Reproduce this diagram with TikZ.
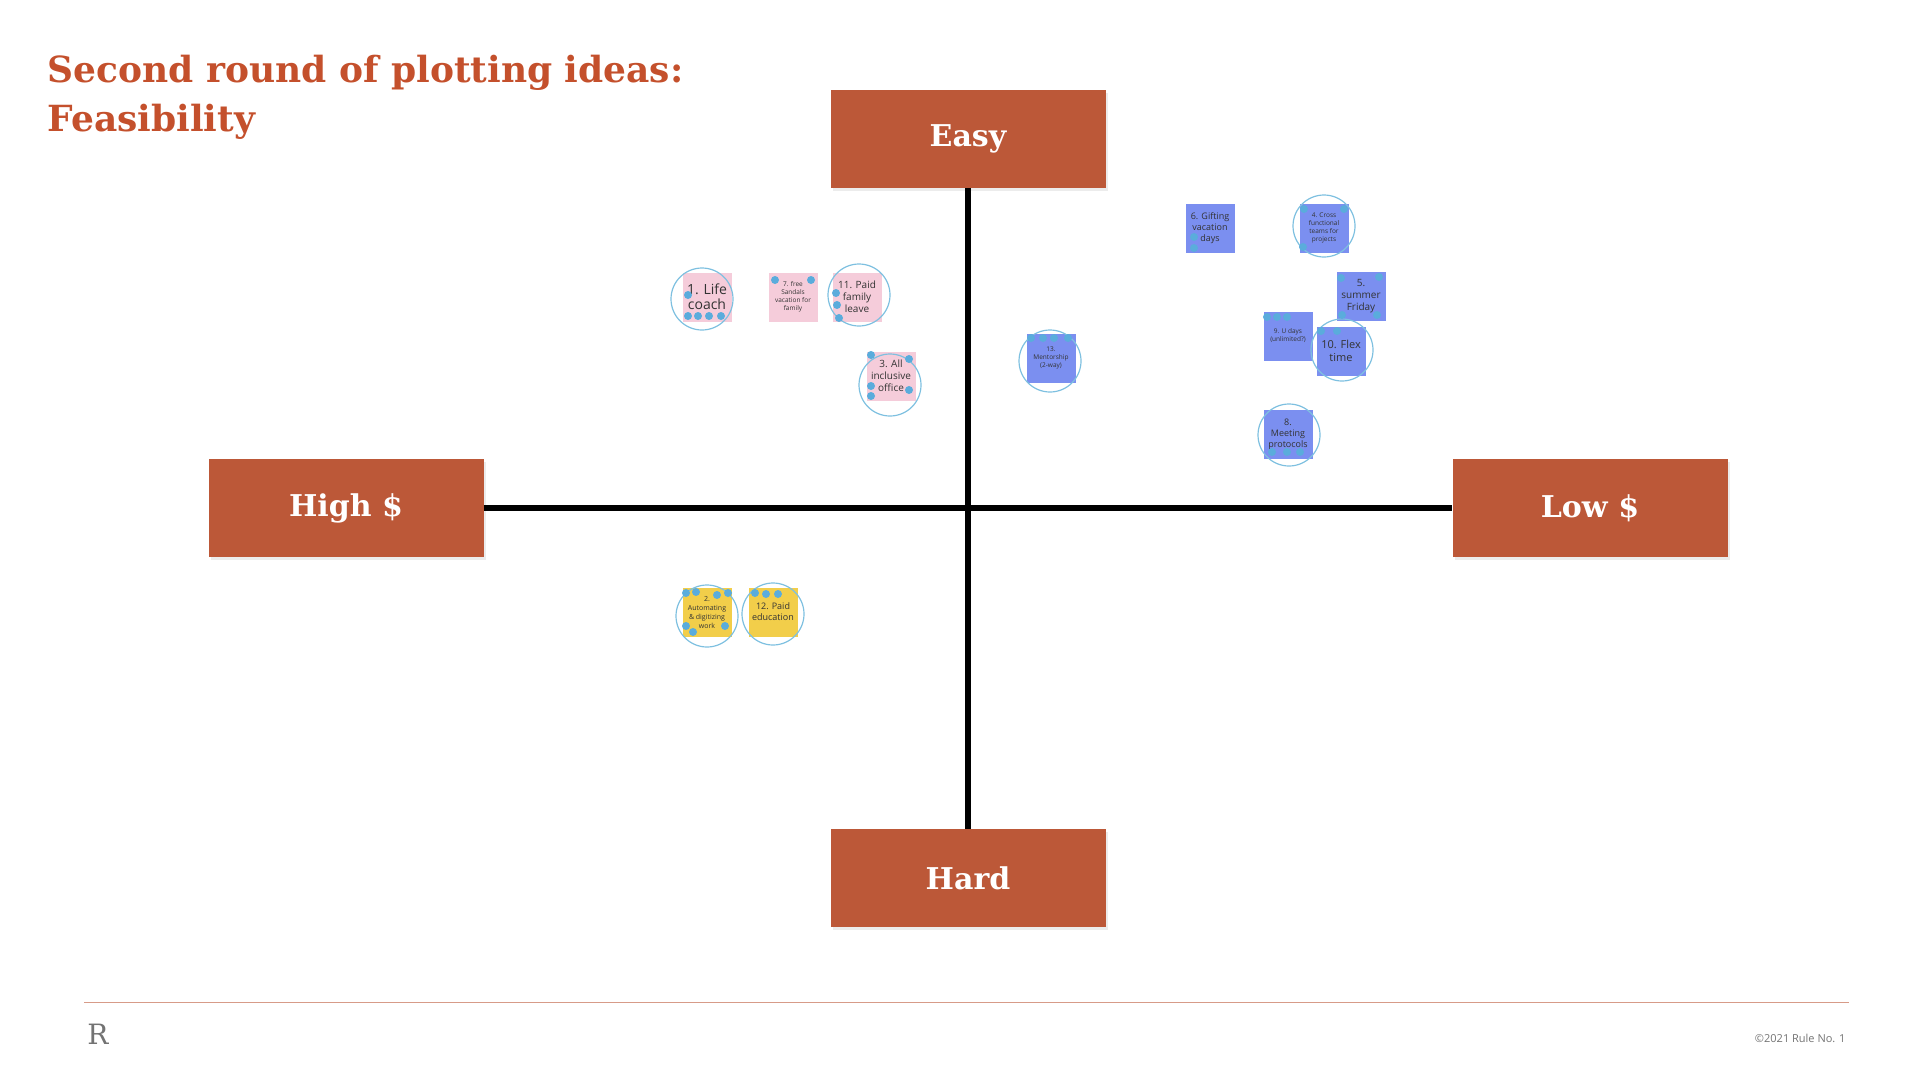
\documentclass[tikz,border=0pt]{standalone}
\usepackage{fontspec}
\setmainfont{Open Sans}
\newfontfamily\slab{DejaVu Serif}
\usetikzlibrary{shadows}
\definecolor{rust}{HTML}{BC5838}
\definecolor{titlec}{HTML}{C4502C}
\definecolor{pinkn}{HTML}{F5CCDA}
\definecolor{bluen}{HTML}{7B8FF0}
\definecolor{yellown}{HTML}{F2CE4A}
\definecolor{dotc}{HTML}{5AACDC}
\definecolor{ringc}{HTML}{7EC0E0}
\begin{document}
\begin{tikzpicture}[x=1pt,y=-1pt,
  axisbox/.style={fill=rust,minimum width=275pt,minimum height=98pt,text=white,font=\slab\bfseries\fontsize{30}{30}\selectfont,drop shadow={opacity=0.15}},
  note/.style={minimum size=49pt,inner sep=1pt,align=center,text=black!80},
  pk/.style={note,fill=pinkn},
  bl/.style={note,fill=bluen},
  yl/.style={note,fill=yellown},
  ring/.style={draw=ringc,line width=1.2pt},
  dt/.style={fill=dotc},
  ax/.style={line width=6pt,black}]
\useasboundingbox (0,0) rectangle (1914,1068);
\node[anchor=west,text=titlec,font=\slab\bfseries\fontsize{36}{36}\selectfont] (t1) at (44,73) {Second round of plotting ideas:};
\node[anchor=west,text=titlec,font=\slab\bfseries\fontsize{36}{36}\selectfont] (t2) at (44,122) {Feasibility};
\node[axisbox] (easy) at (968,139) {Easy};
\node[axisbox] (hard) at (968,878) {Hard};
\node[axisbox] (high) at (346,508) {High \$};
\node[axisbox] (low) at (1590,508) {Low \$};
\draw[ax] (easy.south) -- (hard.north);
\draw[ax] (high.east) -- (low.west);
% notes
\node[pk,font=\fontsize{14}{15}\selectfont] (n1) at (707,297) {1. Life\\coach};
\node[pk,font=\fontsize{6.5}{8}\selectfont] (n7) at (793,297) {7. free\\Sandals\\vacation for\\family};
\node[pk,font=\fontsize{10}{12}\selectfont] (n11) at (857,297) {11. Paid\\family\\leave};
\node[pk,font=\fontsize{10}{12}\selectfont] (n3) at (891,376) {3. All\\inclusive\\office};
\node[bl,font=\fontsize{6.5}{8}\selectfont] (n13) at (1051,358) {13.\\Mentorship\\(2-way)};
\node[bl,font=\fontsize{9}{11}\selectfont] (n6) at (1210,228) {6. Gifting\\vacation\\days};
\node[bl,font=\fontsize{6.5}{8}\selectfont] (n4) at (1324,228) {4. Cross\\functional\\teams for\\projects};
\node[bl,font=\fontsize{10}{12}\selectfont] (n5) at (1361,296) {5.\\summer\\Friday};
\node[bl,font=\fontsize{6.5}{8}\selectfont] (n9) at (1288,336) {9. U days\\(unlimited?)};
\node[bl,font=\fontsize{11}{13}\selectfont] (n10) at (1341,351) {10. Flex\\time};
\node[bl,font=\fontsize{9}{11}\selectfont] (n8) at (1288,434) {8.\\Meeting\\protocols};
\node[yl,font=\fontsize{7}{9}\selectfont] (n2) at (707,612) {2.\\Automating\\\& digitizing\\work};
\node[yl,font=\fontsize{9}{11}\selectfont] (n12) at (773,612) {12. Paid\\education};
% rings
\foreach \c in {(702,299),(859,295),(890,385),(1050,361),(1324,226),(1342,350),(1289,435),(707,616),(773,614)}
  \draw[ring] \c circle (31);
% dots
\foreach \p in {(688,295),(688,316),(698,316),(709,316),(721,316),
  (775,280),(811,280),(836,293),(837,305),(839,318),
  (871,355),(909,359),(871,386),(871,396),(909,390),
  (1194,237),(1194,248),(1304,209),(1344,209),(1303,247),
  (1341,278),(1379,277),(1342,315),(1377,315),
  (1267,317),(1277,317),(1287,317),(1321,331),(1337,331),
  (1031,338),(1043,338),(1054,338),(1068,338),
  (1272,452),(1287,452),(1300,452),
  (686,593),(696,592),(717,595),(728,593),(686,626),(693,632),(725,626),
  (755,593),(766,594),(778,594)}
  \fill[dt] \p circle (4);
% footer
\draw[draw=rust!60,line width=0.8pt] (84,1002) coordinate (fl) -- (1849,1002) coordinate (fr);
\node[text=black!55,font=\slab\fontsize{28}{28}\selectfont] (logo) at (98,1034) {R};
\node[anchor=east,text=black!55,font=\fontsize{11}{12}\selectfont] (copy) at (1849,1038) {©2021 Rule No. 1};
\end{tikzpicture}
\end{document}
